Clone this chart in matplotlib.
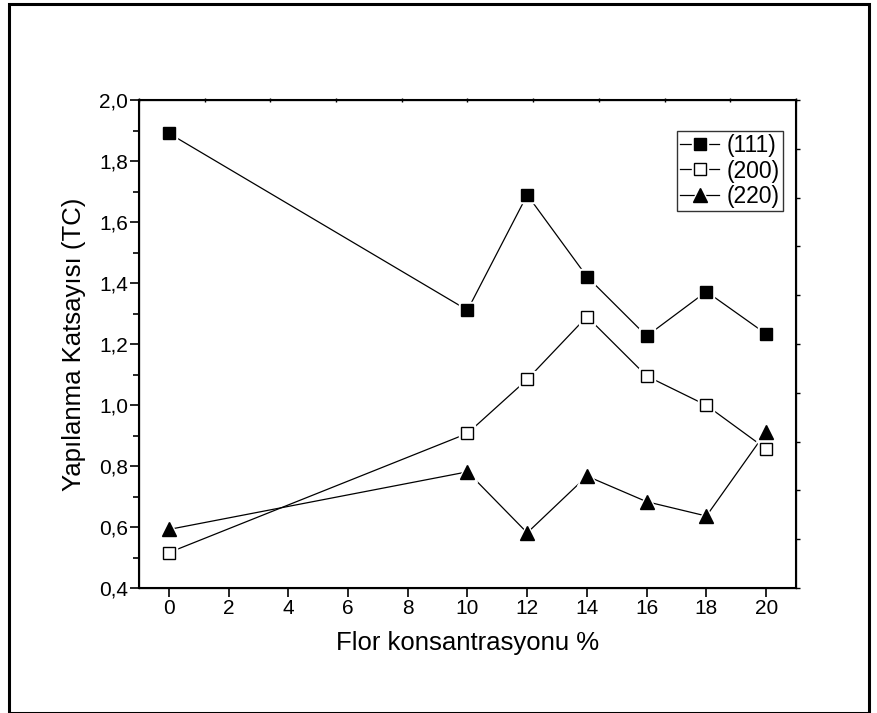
import matplotlib
matplotlib.use("Agg")
import matplotlib.pyplot as plt
from matplotlib.patches import Rectangle
from matplotlib.ticker import MultipleLocator
from matplotlib.legend_handler import HandlerTuple
import numpy as np

plt.rcParams["font.family"] = ["Liberation Sans", "DejaVu Sans"]

flor = [0, 10, 12, 14, 16, 18, 20]
tc_111 = [1.891, 1.311, 1.689, 1.421, 1.226, 1.372, 1.233]
tc_200 = [0.516, 0.907, 1.084, 1.290, 1.095, 0.999, 0.856]
tc_220 = [0.592, 0.781, 0.581, 0.767, 0.683, 0.636, 0.912]
etiketler = ["(111)", "(200)", "(220)"]

fig = plt.figure(figsize=(8.78, 7.13), dpi=100)
ax = fig.add_axes([0.1583, 0.1753, 0.7483, 0.6844])

# dis cerceve
fig.patches.append(Rectangle((0.0099, 0.0), 0.980, 0.9937, transform=fig.transFigure,
                             fill=False, edgecolor="black", linewidth=2.2, zorder=10))

stiller = [("s", "black", 8.0), ("s", "white", 8.0), ("^", "black", 10.0)]
handles = []
for y, (m, fc, ms) in zip([tc_111, tc_200, tc_220], stiller):
    ln, = ax.plot(flor, y, color="black", linewidth=0.9, zorder=2)
    halo, = ax.plot(flor, y, linestyle="none", marker=m, markersize=ms + 4,
                    markerfacecolor="white", markeredgecolor="white", zorder=3)
    mk, = ax.plot(flor, y, linestyle="none", marker=m, markersize=ms,
                  markerfacecolor=fc, markeredgecolor="black", markeredgewidth=1.0, zorder=4)
    handles.append((ln, halo, mk))

ax.set_xlim(-1, 21)
ax.set_ylim(0.4, 2.0)
ax.set_xticks(np.arange(0, 21, 2))
ax.yaxis.set_major_locator(MultipleLocator(0.2))
ax.yaxis.set_minor_locator(MultipleLocator(0.1))
ax.yaxis.set_major_formatter(matplotlib.ticker.FuncFormatter(lambda v, p: ("%.1f" % v).replace(".", ",")))
ax.tick_params(axis="both", which="major", direction="out", length=6.5, width=1.2, labelsize=15, pad=1.5)
ax.tick_params(axis="y", which="minor", direction="out", length=4, width=1.2)
for s in ax.spines.values():
    s.set_linewidth(1.5)

# ust ve sag eksen: 10 esit bolme
ax2 = ax.twiny()
ax2.set_xlim(-1, 21)
ax2.set_xticks(np.linspace(-1, 21, 11))
ax2.tick_params(axis="x", direction="inout", length=3, width=1, labeltop=False)
ax3 = ax.twinx()
ax3.set_ylim(0.4, 2.0)
ax3.set_yticks(np.linspace(0.4, 2.0, 11))
ax3.tick_params(axis="y", direction="out", length=3, width=1, labelright=False)

ax.set_xlabel("Flor konsantrasyonu %", fontsize=18.5, labelpad=9)
ax.set_ylabel("Yapılanma Katsayısı (TC)", fontsize=18.5, labelpad=9)

leg = ax.legend(handles, etiketler, loc="upper right", bbox_to_anchor=(0.98, 0.937),
                borderaxespad=0, fontsize=16.5, frameon=True, fancybox=False,
                handlelength=1.7, handletextpad=0.3, labelspacing=0.1, borderpad=0.15,
                handler_map={tuple: HandlerTuple(ndivide=1)})
leg.get_frame().set_edgecolor("black")
leg.get_frame().set_linewidth(1.0)
leg.set_zorder(5)

plt.savefig("out.png", dpi=100)
